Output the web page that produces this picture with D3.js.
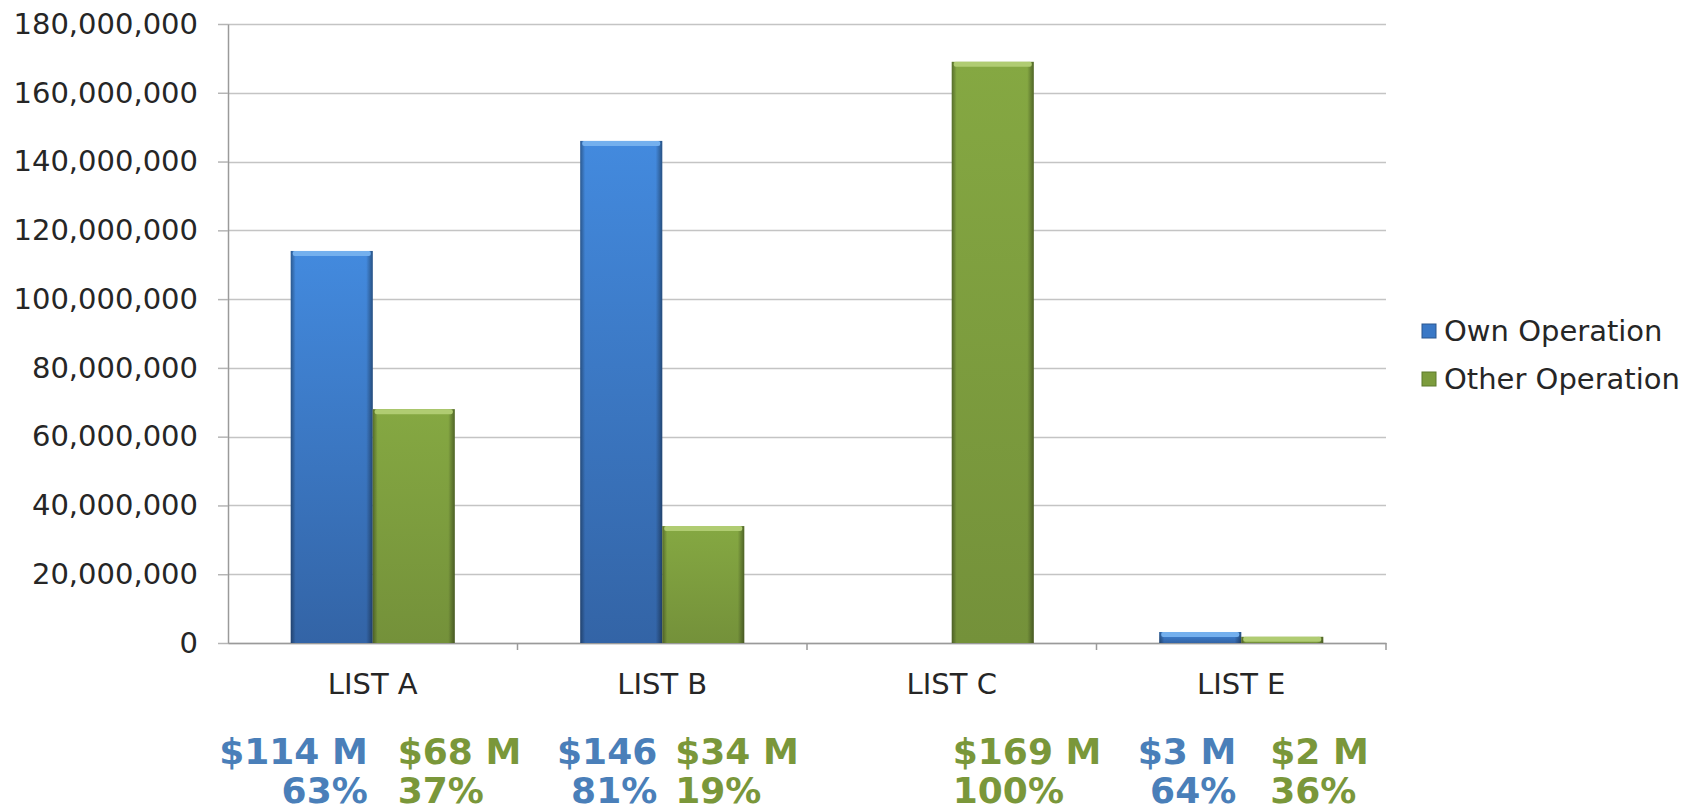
<!DOCTYPE html>
<html>
<head>
<meta charset="utf-8">
<script src="https://cdn.jsdelivr.net/npm/d3@7"></script>
<style>
  body { margin: 0; background: #fff; }
  #chart { width: 1701px; height: 812px; }
  text { font-family: "DejaVu Sans", Verdana, sans-serif; }
</style>
</head>
<body>
<div id="chart"></div>
<script>
// Chart data
const categories = ["LIST A", "LIST B", "LIST C", "LIST E"];
const seriesNames = ["Own Operation", "Other Operation"];
const ownValues = [114000000, 146000000, 0, 3200000];
const otherValues = [68000000, 34000000, 169000000, 1800000];
const yTicks = [0, 20000000, 40000000, 60000000, 80000000, 100000000, 120000000, 140000000, 160000000, 180000000];

// Notes under the chart
const ownAmounts = ["$114 M", "$146", "", "$3 M"];
const ownShares = ["63%", "81%", "", "64%"];
const otherAmounts = ["$68 M", "$34 M", "$169 M", "$2 M"];
const otherShares = ["37%", "19%", "100%", "36%"];
const otherNudge = [25, 13, 1, 29];

const margin = { top: 24, right: 315, bottom: 169, left: 228 };
const width = 1701 - margin.left - margin.right;
const height = 812 - margin.top - margin.bottom;

const svg = d3.select("#chart")
  .append("svg")
  .attr("width", 1701)
  .attr("height", 812);

const g = svg.append("g")
  .attr("transform", "translate(" + margin.left + "," + margin.top + ")");

// Scales
const x0 = d3.scaleBand()
  .domain(categories)
  .range([0, width])
  .padding(0);

const x1 = d3.scaleBand()
  .domain(seriesNames)
  .range([0, x0.bandwidth()])
  .paddingInner(0)
  .paddingOuter(0.765);

const y = d3.scaleLinear()
  .domain([0, 180000000])
  .range([height, 0]);

const colours = {
  "Own Operation": { top: "#438ade", bottom: "#3364a6", cap: "#74b0ee", edge: "#2a568f", key: "#3a78c6" },
  "Other Operation": { top: "#85a842", bottom: "#74913a", cap: "#b0cc72", edge: "#5d7a2c", key: "#7c9c3d" }
};

// Gradients
const defs = svg.append("defs");
seriesNames.forEach(function (s, i) {
  const c = colours[s];
  const lg = defs.append("linearGradient")
    .attr("id", "body" + i)
    .attr("x1", 0).attr("y1", 0).attr("x2", 0).attr("y2", 1);
  lg.append("stop").attr("offset", "0%").attr("stop-color", c.top);
  lg.append("stop").attr("offset", "100%").attr("stop-color", c.bottom);
});
const side = defs.append("linearGradient")
  .attr("id", "sides")
  .attr("x1", 0).attr("y1", 0).attr("x2", 1).attr("y2", 0);
side.append("stop").attr("offset", "0%").attr("stop-color", "#000").attr("stop-opacity", 0.35);
side.append("stop").attr("offset", "6%").attr("stop-color", "#000").attr("stop-opacity", 0);
side.append("stop").attr("offset", "92%").attr("stop-color", "#000").attr("stop-opacity", 0);
side.append("stop").attr("offset", "100%").attr("stop-color", "#000").attr("stop-opacity", 0.4);

// Gridlines
g.append("g")
  .selectAll("line")
  .data(yTicks)
  .enter()
  .append("line")
  .attr("x1", 0)
  .attr("x2", width)
  .attr("y1", d => Math.round(y(d)) + 0.5)
  .attr("y2", d => Math.round(y(d)) + 0.5)
  .attr("stroke", "#c4c4c4")
  .attr("stroke-width", 1.5);

// Y axis
const yAxis = g.append("g")
  .call(d3.axisLeft(y)
    .tickValues(yTicks)
    .tickFormat(d3.format(","))
    .tickSizeInner(10)
    .tickSizeOuter(0)
    .tickPadding(20));
yAxis.select(".domain").attr("stroke", "#9a9a9a").attr("stroke-width", 1.5);
yAxis.selectAll(".tick line").attr("stroke", "#b5b5b5").attr("stroke-width", 1.5);
yAxis.selectAll(".tick text")
  .attr("fill", "#262626")
  .style("font-size", "29px")
  .style("font-family", "'DejaVu Sans', Verdana, sans-serif");

// X axis
const xAxis = g.append("g")
  .attr("transform", "translate(0," + height + ")")
  .call(d3.axisBottom(x0).tickSize(0).tickPadding(30));
xAxis.select(".domain").attr("stroke", "#9a9a9a").attr("stroke-width", 1.5);
xAxis.selectAll(".tick text")
  .attr("fill", "#262626")
  .style("font-size", "29px")
  .style("font-family", "'DejaVu Sans', Verdana, sans-serif");

// Category boundary ticks
g.append("g")
  .selectAll("line")
  .data(categories.map(c => x0(c) + x0.bandwidth()))
  .enter()
  .append("line")
  .attr("x1", d => d)
  .attr("x2", d => d)
  .attr("y1", height)
  .attr("y2", height + 7)
  .attr("stroke", "#9a9a9a")
  .attr("stroke-width", 1.5);

// Bars
const rows = categories.map((c, i) => ({
  category: c,
  values: [
    { series: seriesNames[0], value: ownValues[i], idx: 0 },
    { series: seriesNames[1], value: otherValues[i], idx: 1 }
  ]
}));

const groups = g.append("g")
  .selectAll("g")
  .data(rows)
  .enter()
  .append("g")
  .attr("transform", d => "translate(" + x0(d.category) + ",0)");

const bars = groups.selectAll("g")
  .data(d => d.values.filter(v => v.value > 0))
  .enter()
  .append("g");

bars.append("rect")
  .attr("x", d => x1(d.series))
  .attr("y", d => y(d.value))
  .attr("width", x1.bandwidth())
  .attr("height", d => height - y(d.value))
  .attr("fill", d => "url(#body" + d.idx + ")");

bars.append("rect")
  .attr("x", d => x1(d.series))
  .attr("y", d => y(d.value))
  .attr("width", x1.bandwidth())
  .attr("height", d => height - y(d.value))
  .attr("fill", "url(#sides)");

bars.append("rect")
  .attr("x", d => x1(d.series) + 2)
  .attr("y", d => y(d.value))
  .attr("width", x1.bandwidth() - 4)
  .attr("height", d => Math.min(5, height - y(d.value)))
  .attr("rx", 2)
  .attr("fill", d => colours[d.series].cap);

// Legend
const legend = svg.append("g")
  .attr("transform", "translate(1422,331)");
const legendItems = legend.selectAll("g")
  .data(seriesNames)
  .enter()
  .append("g")
  .attr("transform", (d, i) => "translate(0," + i * 48 + ")");
legendItems.append("rect")
  .attr("x", 0)
  .attr("y", -7)
  .attr("width", 14)
  .attr("height", 14)
  .attr("fill", d => colours[d].key)
  .attr("stroke", d => colours[d].edge)
  .attr("stroke-width", 1);
legendItems.append("text")
  .attr("x", 22)
  .attr("y", 0)
  .attr("dy", "0.36em")
  .attr("fill", "#262626")
  .style("font-size", "29px")
  .text(d => d);

// Notes under the chart
const notes = svg.append("g")
  .attr("transform", "translate(" + margin.left + ",0)")
  .style("font-size", "36px")
  .style("font-weight", "bold");

categories.forEach(function (c, i) {
  const ownRight = x0(c) + x1(seriesNames[0]) + x1.bandwidth() - 5;
  const otherLeft = x0(c) + x1(seriesNames[1]) + otherNudge[i];
  if (ownAmounts[i]) {
    notes.append("text").attr("x", ownRight).attr("y", 764)
      .attr("text-anchor", "end").attr("fill", "#4a7fb9").text(ownAmounts[i]);
    notes.append("text").attr("x", ownRight).attr("y", 803)
      .attr("text-anchor", "end").attr("fill", "#4a7fb9").text(ownShares[i]);
  }
  notes.append("text").attr("x", otherLeft).attr("y", 764)
    .attr("text-anchor", "start").attr("fill", "#7a973a").text(otherAmounts[i]);
  notes.append("text").attr("x", otherLeft).attr("y", 803)
    .attr("text-anchor", "start").attr("fill", "#7a973a").text(otherShares[i]);
});
</script>
</body>
</html>
